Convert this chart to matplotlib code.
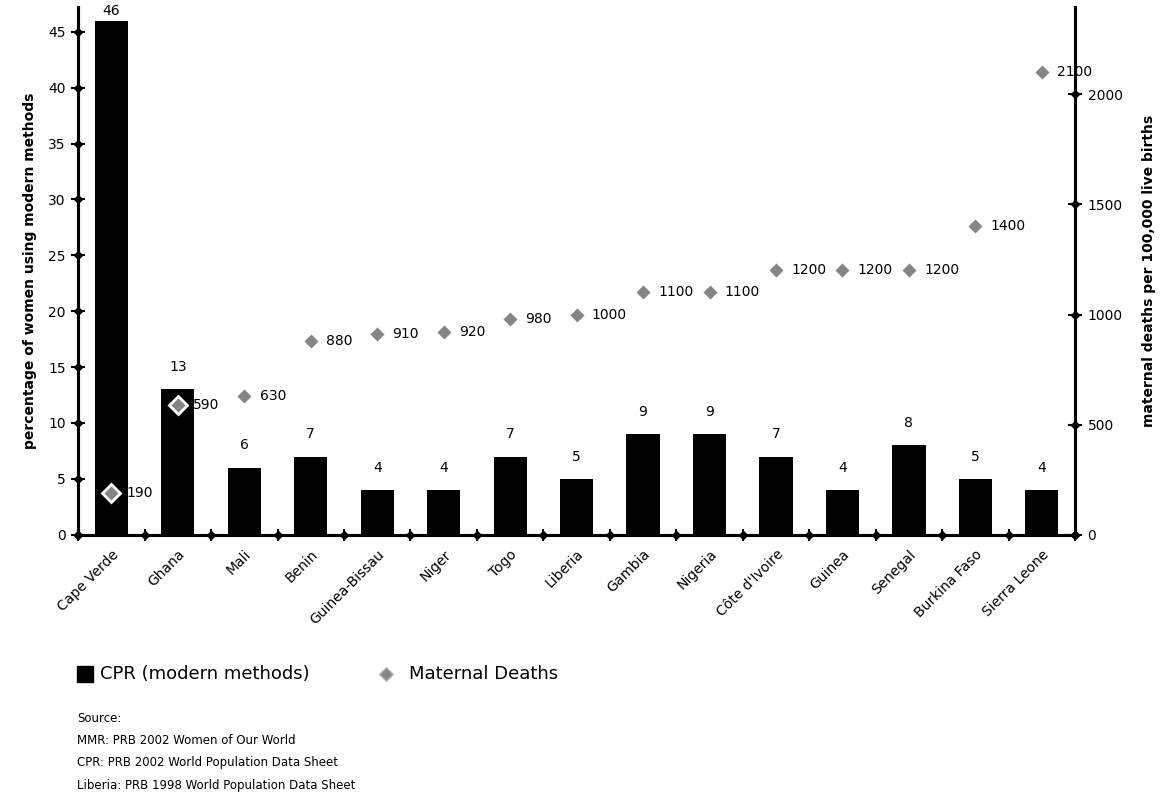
import matplotlib.pyplot as plt
import numpy as np

countries = ['Cape Verde', 'Ghana', 'Mali', 'Benin', 'Guinea-Bissau', 'Niger', 'Togo',
             'Liberia', 'Gambia', 'Nigeria', "Côte d'Ivoire", 'Guinea', 'Senegal',
             'Burkina Faso', 'Sierra Leone']
cpr = [46, 13, 6, 7, 4, 4, 7, 5, 9, 9, 7, 4, 8, 5, 4]
mmr = [190, 590, 630, 880, 910, 920, 980, 1000, 1100, 1100, 1200, 1200, 1200, 1400, 2100]
left_ticks = [0, 5, 10, 15, 20, 25, 30, 35, 40, 45]
right_ticks = [0, 500, 1000, 1500, 2000]
sources = ['Source:',
           'MMR: PRB 2002 Women of Our World',
           'CPR: PRB 2002 World Population Data Sheet',
           'Liberia: PRB 1998 World Population Data Sheet']

plt.rcParams['font.family'] = 'DejaVu Sans'

fig = plt.figure(figsize=(11.66, 8.09), dpi=100)
ax = fig.add_axes([0.067, 0.339, 0.855, 0.652])
ax2 = ax.twinx()

x = np.arange(len(countries))
ax.bar(x, cpr, width=0.5, color='black', zorder=2)
for xi, v in zip(x, cpr):
    # the tallest bar reaches the top of the figure, keep its label just inside
    off = 2 if v > 40 else 11
    ax.annotate(str(v), (xi, v), xytext=(0, off), textcoords='offset points',
                ha='center', va='bottom', fontsize=10, annotation_clip=False)

ax2.plot(x, mmr, linestyle='none', marker='D', markersize=9, color='#858585',
         markeredgecolor='white', markeredgewidth=2, zorder=3)
for xi, v in zip(x, mmr):
    ax2.annotate(str(v), (xi, v), xytext=(11, 0), textcoords='offset points',
                 ha='left', va='center', fontsize=10)

ax.set_xlim(-0.5, len(countries) - 0.5)
ax.set_ylim(0, 47.2)
ax2.set_ylim(0, 2395)

ax.set_yticks(left_ticks)
ax2.set_yticks(right_ticks)
ax.set_xticks(np.arange(len(countries) + 1) - 0.5)
ax.set_xticklabels([])
ax.set_xticks(x, minor=True)
ax.set_xticklabels(countries, minor=True, rotation=45, ha='right',
                   rotation_mode='anchor', fontsize=10)
ax.tick_params(axis='x', which='minor', length=0, pad=9)
ax.tick_params(axis='x', which='major', direction='inout', length=8, width=1.5)
ax.tick_params(axis='y', direction='inout', length=10, width=1.5, labelsize=10, pad=4)
ax2.tick_params(axis='y', direction='inout', length=10, width=1.5, labelsize=10, pad=4)

for a in (ax, ax2):
    a.spines['top'].set_visible(False)
    for s in ('left', 'right', 'bottom'):
        a.spines[s].set_linewidth(2.2)

# small dots on the axis ticks
ax.plot(np.full(len(left_ticks), -0.5), left_ticks, 'D', color='black', markersize=4, clip_on=False, zorder=5)
ax2.plot(np.full(len(right_ticks), len(countries) - 0.5), right_ticks, 'D', color='black', markersize=4, clip_on=False, zorder=5)
ax.plot(np.arange(len(countries) + 1) - 0.5, np.zeros(len(countries) + 1), 'D', color='black',
        markersize=4, clip_on=False, zorder=5)

ax.set_ylabel('percentage of women using modern methods', fontsize=10, fontweight='bold', labelpad=8)
ax2.set_ylabel('maternal deaths per 100,000 live births', fontsize=10, fontweight='bold',
               rotation=90, labelpad=14)
ax2.yaxis.set_label_position('right')

# legend
fig.patches.append(plt.Rectangle((0.066, 0.157), 0.0135, 0.0195, transform=fig.transFigure,
                                 facecolor='black', edgecolor='black'))
fig.text(0.086, 0.167, 'CPR (modern methods)', fontsize=13, va='center')
fig.lines.append(plt.Line2D([0.331], [0.167], transform=fig.transFigure, marker='D',
                            markersize=7, color='#858585', markeredgecolor='#bbbbbb'))
fig.text(0.351, 0.167, 'Maternal Deaths', fontsize=13, va='center')

for i, line in enumerate(sources):
    fig.text(0.066, 0.112 - i * 0.0275, line, fontsize=8.5, va='center')

fig.savefig('out.png', dpi=100)
